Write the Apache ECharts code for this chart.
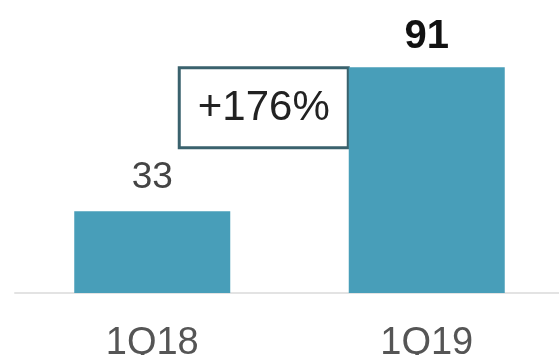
<!DOCTYPE html>
<html>
<head>
<meta charset="utf-8">
<script src="https://cdn.jsdelivr.net/npm/echarts@6/dist/echarts.min.js"></script>
<style>
  html, body { margin: 0; padding: 0; background: #fff; }
  #chart { width: 559px; height: 355px; }
</style>
</head>
<body>
<div id="chart"></div>
<script>
// Quarterly values
var categories = ['1Q18', '1Q19'];
var values = [33, 91];
var growthLabel = '+176%';

var FONT = '"Liberation Sans", Arial, sans-serif';
var BAR_COLOR = '#489eb9';
var BAR_WIDTH = 156;

var chart = echarts.init(document.getElementById('chart'), null, { renderer: 'canvas' });

var barData = values.map(function (v, i) {
  var last = i === values.length - 1;
  return {
    value: v,
    label: last
      ? { fontWeight: 'bold', color: '#111', fontSize: 40, distance: 10 }
      : { fontWeight: 'normal', color: '#444', fontSize: 37, distance: 15 }
  };
});

chart.setOption({
  animation: false,
  grid: {
    left: 15, right: -5, top: 45, bottom: 62,
    containLabel: false,
    outerBoundsMode: 'none'
  },
  xAxis: {
    type: 'category',
    data: categories,
    axisLine: { show: true, lineStyle: { color: '#e3e3e3', width: 2 } },
    axisTick: { show: false },
    axisLabel: { color: '#555', fontSize: 38, fontFamily: FONT, margin: 32 }
  },
  yAxis: {
    type: 'value',
    min: 0,
    max: 100,
    show: false,
    splitLine: { show: false }
  },
  series: [{
    type: 'bar',
    data: barData,
    barWidth: BAR_WIDTH,
    itemStyle: { color: BAR_COLOR },
    label: { show: true, position: 'top', fontFamily: FONT }
  }]
});

// Growth callout: a boxed label sitting just left of the second bar, top-aligned with it
function placeCallout() {
  var p = chart.convertToPixel({ seriesIndex: 0 }, [1, values[1]]);
  var boxW = 169, boxH = 80;
  var right = p[0] - BAR_WIDTH / 2 - 2;
  var top = p[1] - 1;
  chart.setOption({
    graphic: [{
      type: 'group',
      left: right - boxW,
      top: top,
      children: [{
        type: 'rect',
        shape: { x: 0, y: 0, width: boxW, height: boxH },
        style: { fill: '#fff', stroke: '#3a626d', lineWidth: 3 }
      }, {
        type: 'text',
        x: boxW / 2,
        y: boxH / 2 + 1,
        style: {
          text: growthLabel,
          fill: '#222',
          font: '42px ' + FONT,
          align: 'center',
          verticalAlign: 'middle'
        }
      }]
    }]
  });
}
placeCallout();
</script>
</body>
</html>
